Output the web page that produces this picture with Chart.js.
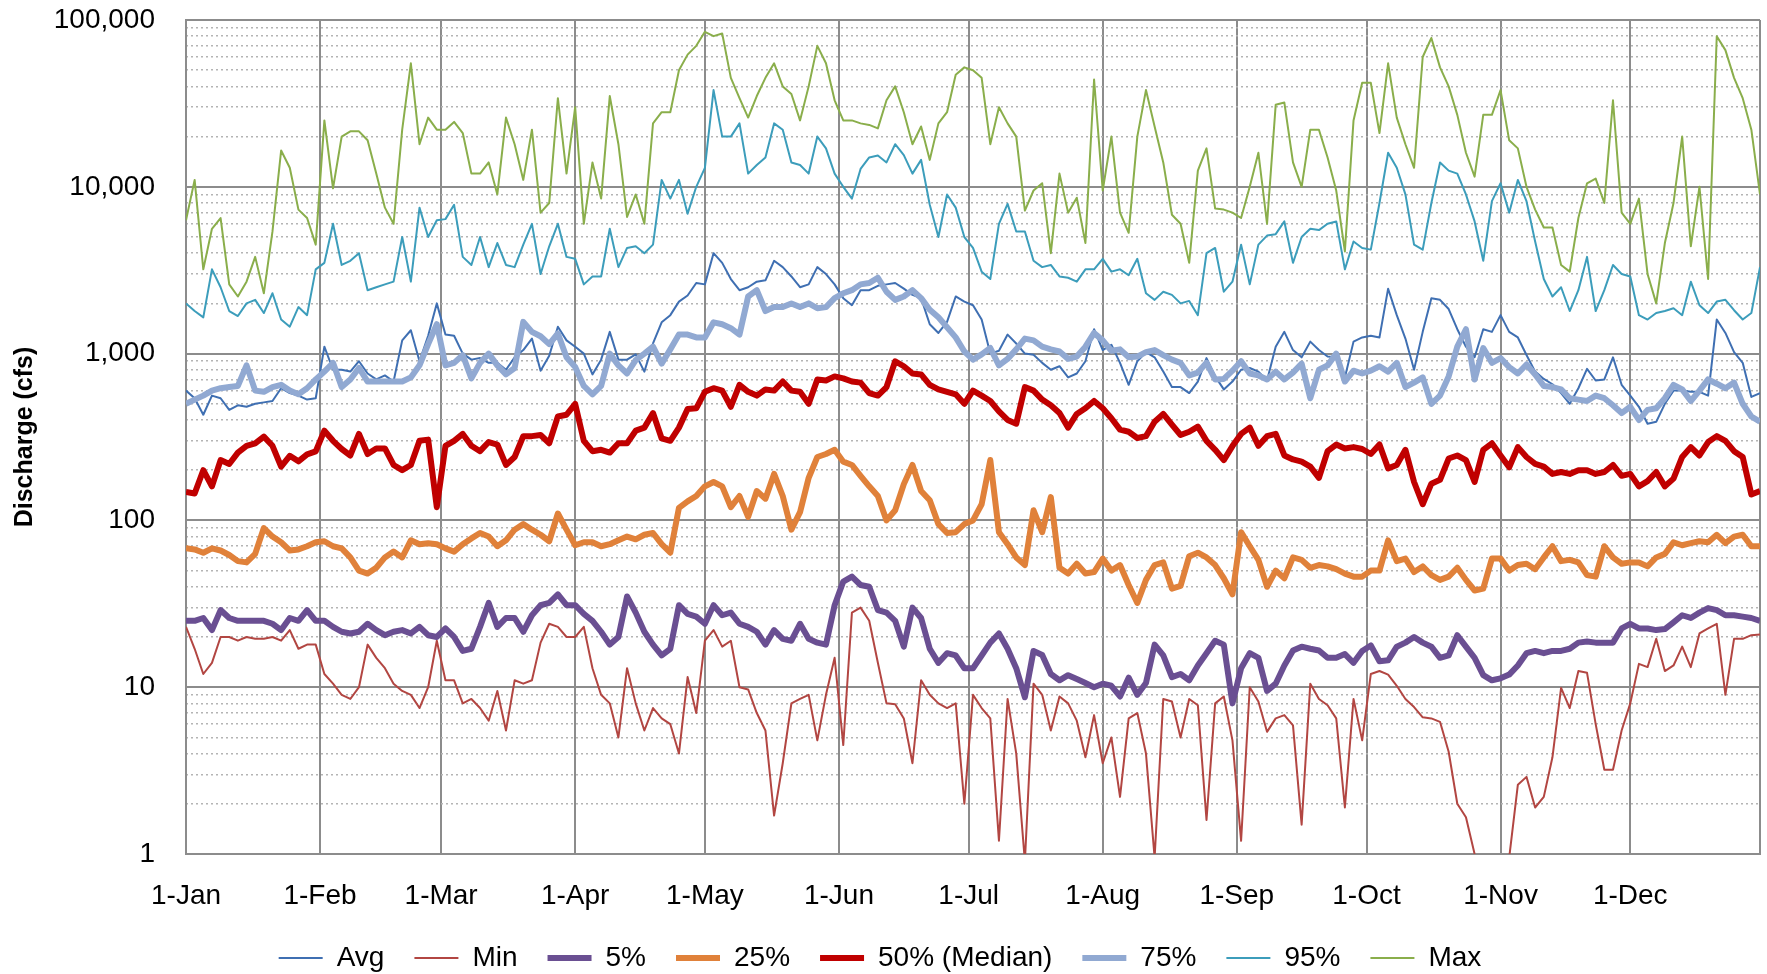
<!DOCTYPE html>
<html>
<head>
<meta charset="utf-8">
<title>Daily discharge statistics</title>
<script src="https://cdn.jsdelivr.net/npm/chart.js@4.4.1/dist/chart.umd.min.js"></script>
<style>
  html, body { margin: 0; padding: 0; background: #fff; }
  #wrap { width: 1767px; height: 974px; }
</style>
</head>
<body>
<div id="wrap"><canvas id="grafica" width="1767" height="974"></canvas></div>
<script>
// --- datos (cada 2 días, día 0 = 1-Jan) ---
const monthLabels = ['1-Jan', '1-Feb', '1-Mar', '1-Apr', '1-May', '1-Jun', '1-Jul', '1-Aug', '1-Sep', '1-Oct', '1-Nov', '1-Dec'];
const monthStarts = [0, 31, 59, 90, 120, 151, 181, 212, 243, 273, 304, 334];
const lastDay = 364;
const dayOfYear = Array.from({ length: 183 }, (_, i) => i * 2);

const yTickValues = [1, 10, 100, 1000, 10000, 100000];
const yMinorValues = [];
yTickValues.slice(0, -1).forEach(d => { for (let k = 2; k <= 9; k++) yMinorValues.push(d * k); });

const avgFlow = [
  600, 540, 430, 560, 540, 460, 490, 480, 500, 510, 520, 620, 580, 560, 530, 540,
  1100, 800, 800, 780, 900, 760, 700, 740, 680, 1200, 1380, 900, 1280, 2000,
  1300, 1280, 1000, 920, 940, 880, 880, 800, 950, 1050, 1230, 790, 970, 1450, 1200,
  1100, 1000, 750, 920, 1350, 920, 920, 990, 780, 1150, 1540, 1700, 2050, 2230, 2650,
  2600, 4000, 3500, 2800, 2400, 2500, 2700, 2750, 3600, 3300, 2900, 2500, 2600, 3300, 3000, 2600,
  2150, 1950, 2400, 2400, 2550, 2600, 2650, 2450, 2250, 2150, 1500, 1330, 1550, 2200, 2050,
  1950, 1600, 1000, 1040, 1300, 1150, 1000, 985, 880, 800, 840, 720, 760, 900, 1400,
  1050, 1130, 880, 650, 900, 1020, 950, 780, 630, 630, 580, 680, 940, 730, 610, 680,
  800, 820, 780, 690, 1100, 1350, 1050, 950, 1180, 1050, 960, 950, 720, 1180, 1250,
  1280, 1250, 2450, 1700, 1230, 800, 1350, 2150, 2100, 1850, 1400, 1100, 950, 1400, 1350,
  1700, 1350, 1250, 980, 780, 705, 655, 580, 500, 620, 810, 690, 700, 950, 650,
  560, 480, 380, 390, 500, 600, 600, 590, 590, 560, 1600, 1330, 1020, 880, 550, 580
];

const minFlow = [
  23, 17, 12, 14, 20, 20, 19, 20, 19.5, 19.5, 20, 19, 22, 17, 18, 18,
  12, 10.5, 9, 8.5, 10, 18, 15, 13, 10.5, 9.5, 9, 7.5, 10, 19,
  11, 11, 8, 8.5, 7.5, 6.3, 9.5, 5.5, 11, 10.5, 11, 18.5, 24, 23, 20,
  20, 23, 13, 9, 8, 5, 13, 8, 5.5, 7.5, 6.5, 6, 4, 11.5, 7,
  19, 22, 17.5, 19, 10, 9.7, 7, 5.5, 1.7, 3.5, 8, 8.5, 9, 4.8, 9, 15,
  4.5, 28, 30, 25, 14, 8, 7.9, 6.5, 3.5, 11, 9, 8, 7.5, 8, 2,
  9, 7.5, 6.5, 1.2, 8.5, 4, 0.9, 10.5, 9, 5.5, 8.8, 8, 6.3, 3.8, 6.8,
  3.5, 5, 2.2, 6.5, 7, 4, 0.95, 8.5, 8.2, 5, 8.5, 7.8, 1.6, 8, 8.8, 4.8,
  1.2, 10, 8.2, 5.4, 6.5, 6.8, 5.9, 1.5, 10.5, 8.5, 7.8, 6.5, 1.9, 8.5, 4.8,
  12, 12.5, 11.9, 10.2, 8.5, 7.6, 6.6, 6.5, 6.2, 4.1, 2, 1.66, 1.0, null, null,
  null, 0.95, 2.6, 2.9, 1.9, 2.2, 3.8, 9.9, 7.5, 12.5, 12.2, 6, 3.2, 3.2, 5.5,
  8, 13.8, 13.2, 19.5, 12.5, 13.5, 17.5, 13.2, 21, 22.5, 24, 9, 19.5, 19.5, 20.5, 20.7
];

const p05Flow = [
  25, 25, 26, 22, 29, 26, 25, 25, 25, 25, 24, 22, 26, 25, 29, 25,
  25, 23, 21.5, 21, 21.5, 24, 22, 20.5, 21.5, 22, 21, 23, 20.5, 20,
  22.5, 20, 16.5, 17, 23, 32, 23, 26, 26, 21.5, 27, 31, 32, 36, 31,
  31, 27.5, 25, 21.5, 18, 20, 35, 28, 21.5, 18, 15.5, 17, 31, 27.5, 26.5,
  24, 31, 27, 28, 24, 23, 21.5, 18, 22, 19.5, 19, 24, 19.5, 18.5, 18, 31,
  43, 46, 41, 40, 29, 28, 25, 17.5, 30, 26, 17, 14, 16, 15.5, 13,
  13, 15.5, 18.5, 21, 17, 13, 8.7, 16.5, 15.6, 12, 11, 11.8, 11.2, 10.6, 10,
  10.5, 10.2, 8.8, 11.4, 9, 10.6, 18, 15.5, 11.5, 12, 11, 13.5, 16, 19, 18, 8,
  13, 16, 15, 9.5, 10.5, 13.5, 16.6, 17.5, 17, 16.6, 15, 15, 15.8, 14, 16.5,
  17.8, 14.3, 14.5, 17.5, 18.5, 20, 18.5, 17.5, 15, 15.5, 20.5, 17.5, 15, 11.8, 11,
  11.3, 11.9, 13.5, 16, 16.5, 16, 16.5, 16.5, 17, 18.5, 18.8, 18.5, 18.5, 18.5, 22.5,
  24, 22.5, 22.5, 22, 22.3, 24.5, 27, 26, 28, 29.8, 29, 27, 27, 26.5, 26, 25
];

const p25Flow = [
  68, 67, 64, 68, 66, 62, 57, 56, 63, 90, 80, 74, 66, 67, 70, 74,
  75, 70, 68, 60, 50, 48, 52, 60, 65, 60, 76, 72, 73, 72,
  68, 65, 72, 78, 84, 80, 70, 76, 88, 95, 88, 82, 75, 110, 88,
  71, 74, 74, 70, 72, 76, 80, 77, 82, 84, 72, 64, 119, 130, 140,
  160, 170, 160, 120, 140, 105, 150, 135, 190, 140, 88, 112, 180, 240, 250, 265,
  225, 215, 185, 160, 140, 100, 115, 165, 215, 150, 132, 95, 84, 85, 95,
  100, 125, 230, 85, 72, 60, 54, 115, 85, 138, 52, 48, 55, 48, 49,
  59, 50, 54, 41, 32, 44, 54, 56, 39, 40.5, 61, 64, 60, 54, 45, 36,
  85, 70, 58, 40, 50, 45, 60, 58, 52, 54, 53, 51, 48, 46, 46,
  50, 50, 76, 57, 59, 49, 53, 47, 44, 46, 52, 44, 38, 39, 59,
  59, 50, 54, 55, 51, 60, 70, 57, 58, 56, 47, 46, 70, 60, 55,
  56, 56, 53, 60, 63, 74, 71, 73, 75, 74, 82, 73, 80, 82, 70, 70
];

const medianFlow = [
  148, 145, 200, 160, 230, 218, 255, 280, 290, 318, 280, 210, 244, 226, 249, 259,
  345, 300, 268, 245, 330, 250, 270, 270, 215, 200, 215, 300, 305, 120,
  280, 300, 330, 280, 260, 295, 285, 215, 240, 320, 320, 325, 290, 420, 430,
  500, 300, 260, 265, 255, 290, 290, 345, 360, 440, 310, 300, 360, 465, 470,
  590, 620, 600, 480, 650, 590, 560, 610, 600, 680, 600, 590, 500, 700, 690, 730,
  710, 680, 670, 580, 560, 630, 900, 840, 760, 750, 650, 610, 590, 570, 500,
  600, 560, 520, 450, 400, 380, 630, 600, 530, 490, 440, 360, 435, 470, 520,
  470, 410, 350, 340, 312, 320, 390, 435, 375, 325, 340, 365, 300, 265, 230, 279,
  330, 360, 280, 320, 330, 245, 232, 225, 210, 180, 260, 285, 270, 275, 268,
  250, 285, 205, 215, 265, 170, 125, 166, 175, 235, 245, 230, 170, 265, 290,
  245, 208, 275, 240, 218, 210, 190, 195, 190, 200, 200, 190, 195, 215, 185,
  190, 160, 172, 195, 160, 178, 240, 275, 245, 295, 320, 300, 260, 240, 143, 150
];

const p75Flow = [
  500, 530, 560, 600, 620, 630, 640, 850, 600, 590, 630, 650, 600, 570, 620, 700,
  780, 880, 630, 700, 820, 680, 680, 680, 680, 680, 720, 850, 1140, 1500,
  850, 880, 980, 710, 880, 1000, 850, 750, 820, 1550, 1350, 1270, 1140, 1320, 950,
  830, 640, 570, 640, 1000, 850, 760, 915, 1000, 1100, 870, 1060, 1300, 1300, 1250,
  1250, 1540, 1500, 1420, 1300, 2200, 2400, 1800, 1900, 1900, 2000, 1900, 2000, 1870, 1900, 2150,
  2300, 2400, 2600, 2650, 2850, 2350, 2100, 2200, 2400, 2150, 1830, 1650, 1440, 1250, 1030,
  920, 990, 1080, 850, 930, 1060, 1230, 1200, 1100, 1060, 1030, 930, 960, 1100, 1330,
  1200, 1040, 1060, 950, 960, 1020, 1050, 980, 920, 880, 740, 770, 880, 700, 705, 790,
  900, 760, 740, 700, 780, 700, 770, 870, 540, 800, 850, 1000, 680, 790, 760,
  790, 840, 780, 880, 630, 670, 720, 500, 560, 730, 1100, 1400, 700, 1080, 880,
  940, 830, 760, 860, 750, 640, 630, 610, 540, 530, 520, 560, 540, 490, 440,
  480, 400, 460, 470, 540, 650, 610, 520, 600, 700, 660, 620, 670, 500, 420, 390
];

const p95Flow = [
  2000, 1800, 1650, 3200, 2500, 1800, 1680, 2000, 2100, 1750, 2300, 1600, 1450, 1900, 1700, 3200,
  3500, 6000, 3400, 3600, 4000, 2400, 2500, 2600, 2700, 5000, 2700, 7500, 5000, 6300,
  6400, 7800, 3800, 3400, 5000, 3300, 4600, 3400, 3300, 4500, 6000, 3000, 4400, 6000, 3800,
  3700, 2600, 2900, 2900, 5600, 3300, 4300, 4400, 4000, 4500, 11000, 8500, 11000, 6900, 10000,
  13000, 38000, 20000, 20000, 24000, 12000, 13500, 15000, 24000, 22000, 14000, 13500, 12000, 20000, 17000, 12000,
  10000, 8500, 12800, 15000, 15400, 14000, 18000, 15500, 12000, 14500, 7800, 5000, 9000, 7500, 5000,
  4300, 3100, 2800, 6000, 7900, 5400, 5400, 3600, 3300, 3400, 2900, 2850, 2700, 3200, 3200,
  3700, 3100, 3200, 2950, 3700, 2300, 2100, 2350, 2250, 2000, 2070, 1700, 4000, 4300, 2350, 2700,
  4500, 2600, 4500, 5100, 5200, 6200, 3500, 5000, 5600, 5500, 6000, 6200, 3200, 4700, 4300,
  4200, 8000, 16000, 13000, 9000, 4500, 4200, 8000, 14000, 12500, 12000, 9000, 6200, 3600, 8200,
  10500, 7000, 11000, 8200, 4700, 2800, 2200, 2500, 1800, 2400, 3800, 1800, 2400, 3400, 3000,
  2900, 1700, 1600, 1750, 1800, 1870, 1700, 2700, 1950, 1750, 2050, 2100, 1820, 1600, 1750, 3300
];

const maxFlow = [
  6300, 11000, 3200, 5600, 6500, 2600, 2200, 2700, 3800, 2300, 5400, 16500, 13000, 7300, 6500, 4500,
  25000, 9800, 20000, 21500, 21500, 19000, 12000, 7500, 6000, 22000, 55000, 18000, 26000, 22000,
  22000, 24500, 21000, 12000, 12000, 14000, 9000, 26000, 18000, 11000, 22000, 7000, 8000, 34000, 12000,
  30000, 6000, 14000, 8500, 35000, 18000, 6600, 9000, 6000, 24000, 28000, 28000, 50000, 62000, 70000,
  85000, 80000, 83000, 45000, 34000, 26000, 35000, 45000, 55000, 40000, 36000, 25000, 40000, 70000, 55000, 33000,
  25000, 25000, 24000, 23500, 22400, 33000, 40000, 28000, 18000, 23000, 14500, 24000, 28000, 47000, 52000,
  50000, 45000, 18000, 30000, 24000, 20000, 7200, 9500, 10500, 4000, 12000, 7000, 8600, 4600, 44000,
  9500, 20000, 7000, 5300, 20000, 38000, 23000, 14000, 6800, 6000, 3500, 12500, 17000, 7400, 7300, 7000,
  6500, 10000, 16000, 6000, 31000, 32000, 14000, 10000, 22000, 22000, 15000, 9500, 4100, 25000, 42000,
  42000, 21000, 55000, 26000, 18000, 13000, 60000, 78000, 52000, 40000, 27000, 16000, 11500, 27000, 27000,
  38000, 19000, 17000, 10000, 7300, 5700, 5700, 3400, 3100, 6500, 10500, 11200, 8000, 33000, 7000,
  6000, 8500, 3000, 2000, 4600, 8000, 20000, 4400, 10000, 2800, 80000, 66000, 45000, 34000, 22000, 9000
];

(function() {
    const FONT = "'Liberation Sans', Arial, sans-serif";
    const GRID = '#8c8c8c';

    const serie = (label, values, color, width, order) => ({
        label: label,
        data: values.map((v, i) => ({ x: dayOfYear[i], y: v })),
        borderColor: color,
        backgroundColor: color,
        borderWidth: width,
        borderJoinStyle: 'round',
        pointRadius: 0,
        tension: 0,
        spanGaps: false,
        order: order
    });

    const renderChart = () => {
        const ctx = document.getElementById('grafica');

        new Chart(ctx, {
            type: 'line',
            data: {
                datasets: [
                    serie('Avg', avgFlow, '#3F6FB2', 2, 8),
                    serie('Min', minFlow, '#B24642', 2, 7),
                    serie('5%', p05Flow, '#6A4F92', 6, 6),
                    serie('25%', p25Flow, '#E0813A', 6, 5),
                    serie('50% (Median)', medianFlow, '#C00000', 6, 4),
                    serie('75%', p75Flow, '#91A9D2', 6, 3),
                    serie('95%', p95Flow, '#3C9DBB', 2, 2),
                    serie('Max', maxFlow, '#8AAE4B', 2, 1)
                ]
            },
            options: {
                responsive: false,
                animation: false,
                devicePixelRatio: 1,
                layout: { padding: { top: 20, right: 7, left: 0, bottom: 0 } },
                scales: {
                    x: {
                        type: 'linear',
                        min: 0,
                        max: lastDay,
                        bounds: 'data',
                        afterBuildTicks: axis => {
                            axis.ticks = monthStarts.concat([lastDay]).map(v => ({ value: v }));
                        },
                        afterFit: axis => {
                            axis.height = 60;
                            axis.paddingLeft = 0;
                            axis.paddingRight = 0;
                        },
                        grid: { color: GRID, lineWidth: 2, drawTicks: false },
                        border: { display: true, color: GRID, width: 2 },
                        ticks: {
                            autoSkip: false,
                            maxRotation: 0,
                            minRotation: 0,
                            padding: 25,
                            color: '#000',
                            font: { family: FONT, size: 28 },
                            callback: value => {
                                const i = monthStarts.indexOf(value);
                                return i >= 0 ? monthLabels[i] : '';
                            }
                        }
                    },
                    y: {
                        type: 'logarithmic',
                        position: 'left',
                        min: 1,
                        max: 100000,
                        bounds: 'data',
                        afterBuildTicks: axis => {
                            axis.ticks = yTickValues.map(v => ({ value: v }));
                        },
                        afterFit: axis => {
                            axis.width = 186;
                            axis.paddingTop = 0;
                            axis.paddingBottom = 0;
                        },
                        grid: { color: GRID, lineWidth: 2, drawTicks: false },
                        border: { display: true, color: GRID, width: 2 },
                        title: {
                            display: true,
                            text: 'Discharge (cfs)',
                            color: '#000',
                            font: { family: FONT, size: 25, weight: 'bold' },
                            padding: { top: 10, bottom: 0 }
                        },
                        ticks: {
                            padding: 31,
                            color: '#000',
                            font: { family: FONT, size: 28 },
                            callback: value => value.toLocaleString('en-US')
                        }
                    },
                    yMinor: {
                        type: 'logarithmic',
                        position: 'left',
                        min: 1,
                        max: 100000,
                        bounds: 'data',
                        afterBuildTicks: axis => {
                            axis.ticks = yMinorValues.map(v => ({ value: v }));
                        },
                        afterFit: axis => {
                            axis.width = 0;
                            axis.paddingTop = 0;
                            axis.paddingBottom = 0;
                        },
                        grid: { color: '#b4b4b4', lineWidth: 1.5, drawTicks: false },
                        border: { display: false, dash: [2, 3] },
                        ticks: { display: false }
                    }
                },
                plugins: {
                    tooltip: { enabled: false },
                    legend: {
                        position: 'bottom',
                        maxHeight: 60,
                        labels: {
                            usePointStyle: true,
                            pointStyle: 'line',
                            pointStyleWidth: 44,
                            padding: 30,
                            color: '#000',
                            font: { family: FONT, size: 28 },
                            sort: (a, b) => a.datasetIndex - b.datasetIndex
                        }
                    }
                }
            }
        });
    };

    if (document.readyState === 'complete') {
        renderChart();
    } else {
        window.addEventListener('load', renderChart);
    }
})();
</script>
</body>
</html>
